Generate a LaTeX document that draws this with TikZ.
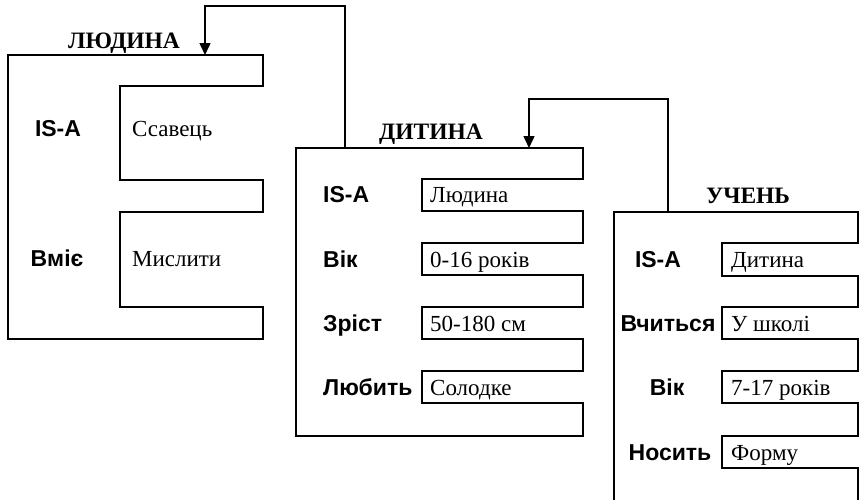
\documentclass[tikz,border=0pt]{standalone}
\usepackage{fontspec}
\setmainfont{Liberation Serif}
\setsansfont{Liberation Sans}
\usetikzlibrary{arrows.meta}
\begin{document}
\begin{tikzpicture}[x=1pt,y=-1pt,
  frame/.style={draw=black,line width=1.8pt,line join=miter},
  title/.style={font=\fontsize{23.5}{26}\selectfont\bfseries,anchor=base,inner sep=0pt},
  slotname/.style={font=\sffamily\bfseries\fontsize{23}{26}\selectfont,anchor=base,inner sep=0pt},
  slotval/.style={font=\fontsize{23}{26}\selectfont,anchor=base west,inner sep=0pt},
  link/.style={draw=black,line width=1.5pt,-{Triangle[width=11pt,length=12pt]}}]
\useasboundingbox (0,0) rectangle (859,499);
\clip (0,0) rectangle (859,499);

% Frame "ЛЮДИНА"
\draw[frame] (8,55) -- (263,55) -- (263,86) -- (120,86) -- (120,180) -- (263,180)
  -- (263,212) -- (120,212) -- (120,307) -- (263,307) -- (263,339) -- (8,339) -- cycle;
\node[title] (tLyud) at (124,48) {ЛЮДИНА};
\node[slotname] (lIsa) at (58,136) {IS-A};
\node[slotval] (lIsaV) at (132,136) {Ссавець};
\node[slotname] (lCan) at (57,266) {Вміє};
\node[slotval] (lCanV) at (132,266) {Мислити};

% Frame "ДИТИНА"
\draw[frame] (296,148) -- (583,148) -- (583,179) -- (422,179) -- (422,211) -- (583,211)
  -- (583,243) -- (422,243) -- (422,275) -- (583,275) -- (583,307) -- (422,307)
  -- (422,339) -- (583,339) -- (583,371) -- (422,371) -- (422,403) -- (583,403)
  -- (583,436) -- (296,436) -- cycle;
\node[title] (tDyt) at (431,139) {ДИТИНА};
\node[slotname,anchor=base west] (dIsa) at (323,202) {IS-A};
\node[slotval] (dIsaV) at (430,202) {Людина};
\node[slotname,anchor=base west] (dAge) at (323,267) {Вік};
\node[slotval] (dAgeV) at (430,267) {0-16 років};
\node[slotname,anchor=base west] (dHgt) at (323,331) {Зріст};
\node[slotval] (dHgtV) at (430,331) {50-180 см};
\node[slotname,anchor=base west] (dLike) at (323,395) {Любить};
\node[slotval] (dLikeV) at (430,395) {Солодке};

% Frame "УЧЕНЬ"
\draw[frame] (614,212) -- (858,212) -- (858,243) -- (722,243) -- (722,276) -- (858,276)
  -- (858,307) -- (722,307) -- (722,339) -- (858,339) -- (858,371) -- (722,371)
  -- (722,403) -- (858,403) -- (858,436) -- (722,436) -- (722,468) -- (858,468)
  -- (858,502) -- (614,502) -- cycle;
\node[title] (tUch) at (748,203) {УЧЕНЬ};
\node[slotname] (uIsa) at (658,267) {IS-A};
\node[slotval] (uIsaV) at (731,267) {Дитина};
\node[slotname] (uLearn) at (668,331) {Вчиться};
\node[slotval] (uLearnV) at (731,331) {У школі};
\node[slotname] (uAge) at (667,395) {Вік};
\node[slotval] (uAgeV) at (731,395) {7-17 років};
\node[slotname] (uWear) at (670,460) {Носить};
\node[slotval] (uWearV) at (731,460) {Форму};

% IS-A links between frames
\coordinate (lyudIn) at (205,55);
\coordinate (dytOut) at (345,148);
\coordinate (dytIn) at (529,148);
\coordinate (uchOut) at (668,212);
\draw[link] (dytOut) -- ++(0,-142) -| (lyudIn);
\draw[link] (uchOut) -- ++(0,-113) -| (dytIn);
\end{tikzpicture}
\end{document}
